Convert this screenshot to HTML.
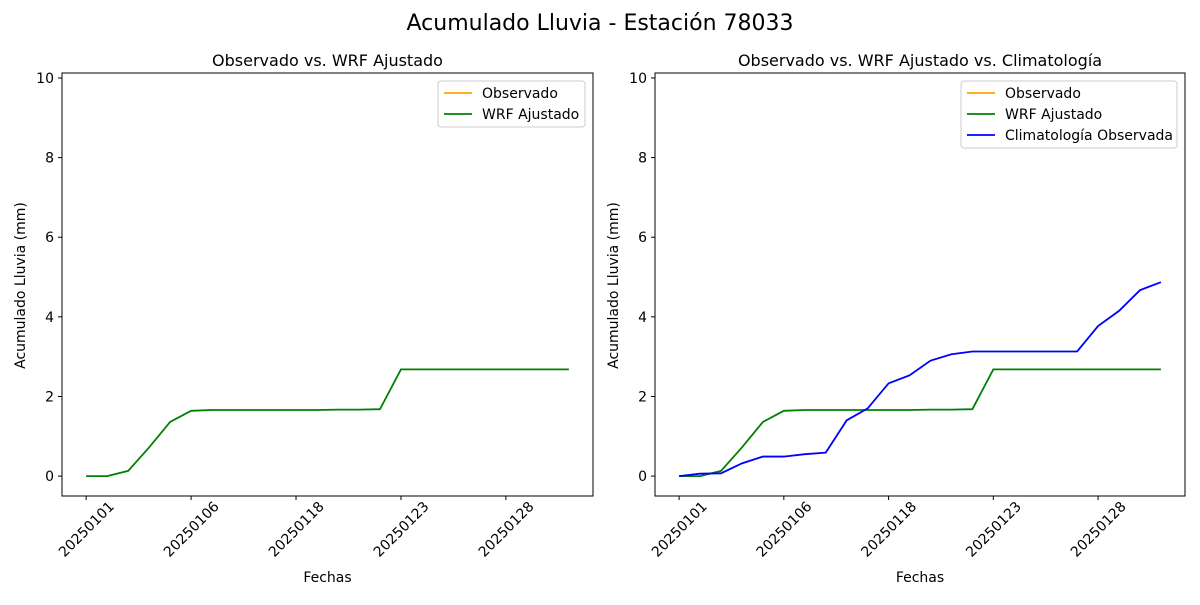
<!DOCTYPE html>
<html><head><meta charset="utf-8"><style>
body{margin:0;background:#fff;font-family:"Liberation Sans","DejaVu Sans",sans-serif}
svg text{font-family:"DejaVu Sans","Liberation Sans",sans-serif}
</style></head><body>
<svg id="c" width="1200" height="600" xmlns="http://www.w3.org/2000/svg">
<text x="600" y="30" font-size="22" text-anchor="middle">Acumulado Lluvia - Estación 78033</text>
</svg>
<script>
const dates=["20250101","20250102","20250103","20250104","20250105","20250106","20250107","20250108","20250109","20250110","20250111","20250112","20250113","20250114","20250115","20250123","20250124","20250125","20250126","20250127","20250128","20250129","20250130","20250131"];
const tickIdx=[0,5,10,15,20];
const tickLabels=["20250101","20250106","20250118","20250123","20250128"];
const yTicks=[0,2,4,6,8,10];
const observado=[];
const wrf=[0,0,0.13,0.72,1.36,1.64,1.66,1.66,1.66,1.66,1.66,1.66,1.67,1.67,1.68,2.68,2.68,2.68,2.68,2.68,2.68,2.68,2.68,2.68];
const clim=[0,0.06,0.07,0.32,0.49,0.49,0.55,0.59,1.4,1.7,2.33,2.53,2.9,3.06,3.13,3.13,3.13,3.13,3.13,3.13,3.77,4.15,4.67,4.87];
const svg=document.getElementById('c');const NS="http://www.w3.org/2000/svg";
function mk(t,a,p){const e=document.createElementNS(NS,t);for(const k in a)e.setAttribute(k,a[k]);(p||svg).appendChild(e);return e;}
function panel(L,R,title,series,legend,pname){
 const T=73,B=496;const n=dates.length;const xmin=-0.05*(n-1),xmax=(n-1)*1.05;
 const ymin=-0.5,ymax=10.125;
 const X=i=>L+(i-xmin)/(xmax-xmin)*(R-L);const Y=v=>B-(v-ymin)/(ymax-ymin)*(B-T);
 const g=mk('g',{});
 const t=mk('text',{x:(L+R)/2,y:66,'font-size':16,'text-anchor':'middle'},g);t.textContent=title;
 
 yTicks.forEach(v=>{mk('line',{x1:L-4,x2:L,y1:Y(v),y2:Y(v),stroke:'#000'},g);
  const tx=mk('text',{x:L-8,y:Y(v)+5,'font-size':14,'text-anchor':'end'},g);tx.textContent=v;
  });
 tickIdx.forEach((ix,k)=>{const x=X(ix);mk('line',{x1:x,x2:x,y1:B,y2:B+4,stroke:'#000'},g);
  const tx=mk('text',{x:0,y:0,'font-size':14,'text-anchor':'middle',transform:`translate(${x},${B+33}) rotate(-45) translate(0,5)`},g);tx.textContent=tickLabels[k];
  });
 const yl=mk('text',{x:0,y:0,'font-size':14,'text-anchor':'middle',transform:`translate(${L-37},${(T+B)/2+1}) rotate(-90)`},g);yl.textContent='Acumulado Lluvia (mm)';
 
 const xl=mk('text',{x:(L+R)/2,y:582,'font-size':14,'text-anchor':'middle'},g);xl.textContent='Fechas';
 
 series.forEach(s=>{if(!s.d.length)return;const pts=s.d.map((v,i)=>X(i)+','+Y(v)).join(' ');
  const pl=mk('polyline',{points:pts,fill:'none',stroke:s.c,'stroke-width':1.8},g);
  });
 mk('rect',{x:L,y:T,width:R-L,height:B-T,fill:'none',stroke:'#000','stroke-width':1},g);
 const lw=legend.w,lx=R-8-lw,ly=81;const lg=mk('g',{},g);
 mk('rect',{x:lx,y:ly,width:lw,height:series.length*21+4,fill:'#fff',stroke:'#ccc',rx:3},lg);
 series.forEach((s,i)=>{const yy=ly+12+i*21;mk('line',{x1:lx+6,x2:lx+34,y1:yy,y2:yy,stroke:s.c,'stroke-width':1.8},lg);
  const tx=mk('text',{x:lx+44,y:yy+5,'font-size':14},lg);tx.textContent=s.l;
  });
}
panel(62,593,'Observado vs. WRF Ajustado',[{d:observado,c:'orange',l:'Observado',n:'observado-line'},{d:wrf,c:'green',l:'WRF Ajustado',n:'wrf-line'}],{w:147},'left-panel');
panel(655,1185,'Observado vs. WRF Ajustado vs. Climatología',[{d:observado,c:'orange',l:'Observado',n:'observado-line'},{d:wrf,c:'green',l:'WRF Ajustado',n:'wrf-line'},{d:clim,c:'blue',l:'Climatología Observada',n:'climatologia-line'}],{w:216},'right-panel');
</script>
</body></html>
